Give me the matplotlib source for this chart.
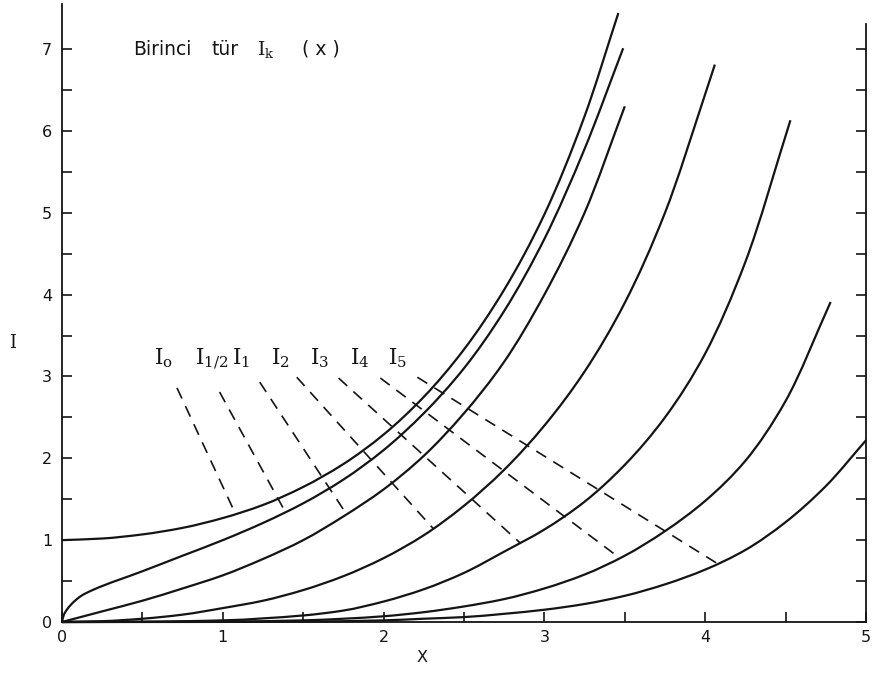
import numpy as np
import matplotlib
matplotlib.use("Agg")
import matplotlib.pyplot as plt
from matplotlib.path import Path
from matplotlib.patches import PathPatch
from matplotlib.ticker import MultipleLocator, FixedLocator

# Modified Bessel functions of the first kind
x_I0 = [0, 0.25, 0.5, 0.75, 1.0, 1.25, 1.5, 1.75, 2.0, 2.25, 2.5, 2.75, 3.0, 3.25, 3.46]
y_I0 = [1.00, 1.02, 1.07, 1.15, 1.27, 1.43, 1.65, 1.93, 2.29, 2.75, 3.33, 4.06, 4.98, 6.18, 7.44]

x_Ih = [0, 0.01, 0.03, 0.07, 0.12, 0.19, 0.5, 0.75, 1.0, 1.25, 1.5, 1.75, 2.0, 2.25,
        2.5, 2.75, 3.0, 3.25, 3.49]
y_Ih = [0, 0.08, 0.15, 0.24, 0.32, 0.39, 0.62, 0.81, 1.00, 1.21, 1.45, 1.74, 2.10, 2.55,
        3.10, 3.80, 4.68, 5.78, 7.01]

x_I1 = [0, 0.25, 0.5, 0.75, 1.0, 1.25, 1.5, 1.75, 2.0, 2.25, 2.5, 2.75, 3.0, 3.25, 3.50]
y_I1 = [0, 0.13, 0.26, 0.41, 0.57, 0.77, 1.00, 1.29, 1.62, 2.03, 2.55, 3.18, 4.00, 5.00, 6.30]

x_I2 = [0, 0.25, 0.5, 0.75, 1.0, 1.25, 1.5, 1.75, 2.0, 2.25, 2.5, 2.75, 3.0, 3.25, 3.5,
        3.75, 4.0, 4.06]
y_I2 = [0, 0.01, 0.04, 0.09, 0.17, 0.26, 0.39, 0.56, 0.78, 1.06, 1.42, 1.86, 2.40, 3.06,
        3.90, 5.00, 6.45, 6.81]

x_I3 = [0, 0.5, 1.0, 1.5, 1.75, 2.0, 2.25, 2.5, 2.75, 3.0, 3.25, 3.5, 3.75, 4.0, 4.25, 4.53]
y_I3 = [0, 0.003, 0.02, 0.08, 0.14, 0.25, 0.40, 0.60, 0.86, 1.13, 1.47, 1.92, 2.50, 3.28,
        4.40, 6.13]

x_I4 = [0, 1.0, 1.5, 1.75, 2.0, 2.25, 2.5, 2.75, 3.0, 3.25, 3.5, 3.75, 4.0, 4.25, 4.5, 4.78]
y_I4 = [0, 0.005, 0.02, 0.04, 0.07, 0.12, 0.19, 0.28, 0.41, 0.58, 0.81, 1.11, 1.48, 1.97,
        2.70, 3.91]

x_I5 = [0, 1.0, 1.5, 2.0, 2.25, 2.5, 2.75, 3.0, 3.25, 3.5, 3.75, 4.0, 4.25, 4.5, 4.75, 5.0]
y_I5 = [0, 0.001, 0.005, 0.02, 0.04, 0.06, 0.10, 0.15, 0.22, 0.32, 0.46, 0.64, 0.88, 1.22,
        1.66, 2.22]

curve_names = [r"$\mathregular{I_o}$", r"$\mathregular{I_{1/2}}$", r"$\mathregular{I_1}$",
               r"$\mathregular{I_2}$", r"$\mathregular{I_3}$", r"$\mathregular{I_4}$",
               r"$\mathregular{I_5}$"]
curves = [(x_I0, y_I0), (x_Ih, y_Ih), (x_I1, y_I1), (x_I2, y_I2),
          (x_I3, y_I3), (x_I4, y_I4), (x_I5, y_I5)]

# label anchors and dashed leader lines (start point, x where it meets its curve)
label_x = [0.575, 0.83, 1.06, 1.30, 1.54, 1.79, 2.03]
label_y = 3.22
leader_start_x = [0.715, 0.98, 1.23, 1.46, 1.72, 1.98, 2.21]
leader_start_y = [2.86, 2.81, 2.93, 2.99, 2.98, 2.98, 2.99]
leader_end_x = [1.08, 1.39, 1.77, 2.31, 2.85, 3.47, 4.08]

# heading words, their left positions and font families
title_words = ["Birinci", "tür", r"$\mathregular{I_k}$", "( x )"]
title_x = [0.44, 0.93, 1.215, 1.49]
title_fonts = ["DejaVu Sans", "DejaVu Sans", "DejaVu Serif", "DejaVu Sans"]
title_y = 7.0


def slopes(xs, ys):
    """Monotone (Fritsch-Carlson) tangents at each point."""
    xs, ys = np.asarray(xs, float), np.asarray(ys, float)
    h = np.diff(xs)
    d = np.diff(ys) / h
    m = np.empty_like(xs)
    m[0], m[-1] = d[0], d[-1]
    for k in range(1, len(xs) - 1):
        if d[k - 1] * d[k] <= 0:
            m[k] = 0.0
        else:
            w1 = 2 * h[k] + h[k - 1]
            w2 = h[k] + 2 * h[k - 1]
            m[k] = (w1 + w2) / (w1 / d[k - 1] + w2 / d[k])
    return m


def smooth_path(xs, ys):
    """Cubic Bezier path passing through every point."""
    xs, ys = np.asarray(xs, float), np.asarray(ys, float)
    m = slopes(xs, ys)
    verts = [(xs[0], ys[0])]
    codes = [Path.MOVETO]
    for k in range(len(xs) - 1):
        h = xs[k + 1] - xs[k]
        verts += [(xs[k] + h / 3, ys[k] + m[k] * h / 3),
                  (xs[k + 1] - h / 3, ys[k + 1] - m[k + 1] * h / 3),
                  (xs[k + 1], ys[k + 1])]
        codes += [Path.CURVE4] * 3
    return Path(verts, codes)


def value_at(xs, ys, x):
    xs, ys = np.asarray(xs, float), np.asarray(ys, float)
    m = slopes(xs, ys)
    k = int(np.clip(np.searchsorted(xs, x) - 1, 0, len(xs) - 2))
    h = xs[k + 1] - xs[k]
    t = (x - xs[k]) / h
    h00 = 2 * t**3 - 3 * t**2 + 1
    h10 = t**3 - 2 * t**2 + t
    h01 = -2 * t**3 + 3 * t**2
    h11 = t**3 - t**2
    return h00 * ys[k] + h10 * h * m[k] + h01 * ys[k + 1] + h11 * h * m[k + 1]


W, H = 878, 679
fig = plt.figure(figsize=(W / 100, H / 100), dpi=100)
ax = fig.add_axes([62 / W, 57 / H, 804 / W, 618 / H])
ink = "#141414"

for (xs, ys) in curves:
    ax.add_patch(PathPatch(smooth_path(xs, ys), fill=False, edgecolor=ink, lw=1.6,
                           capstyle="butt", clip_on=False, zorder=3))

for i, (xs, ys) in enumerate(curves):
    xe = leader_end_x[i]
    ye = value_at(xs, ys, xe)
    ax.plot([leader_start_x[i], xe], [leader_start_y[i], ye], color=ink, lw=1.2,
            ls=(0, (7, 5)), zorder=2)
    ax.text(label_x[i], label_y, curve_names[i], fontsize=15.5, family="DejaVu Serif",
            ha="left", va="center", color=ink)

for word, wx, fam in zip(title_words, title_x, title_fonts):
    ax.text(wx, title_y, word, fontsize=13.5, family=fam, ha="left", va="center",
            color=ink)

ax.set_xlim(0, 5)
ax.set_ylim(0, 7.55)

ax.spines["top"].set_visible(False)
ax.spines["right"].set_bounds(0, 7.3)
ax.spines["left"].set_bounds(0, 7.55)
for s in ("left", "right", "bottom"):
    ax.spines[s].set_linewidth(1.3)
    ax.spines[s].set_color(ink)

ax.xaxis.set_major_locator(MultipleLocator(1))
ax.xaxis.set_minor_locator(MultipleLocator(0.5))
ax.yaxis.set_major_locator(FixedLocator(range(0, 8)))
ax.yaxis.set_minor_locator(FixedLocator(np.arange(0.5, 7.0, 1.0)))

ax.tick_params(axis="both", which="both", direction="in", length=7, width=1.2,
               color=ink, labelsize=11.5, labelcolor=ink)
ax.tick_params(axis="y", which="both", left=True, right=True, pad=7)
ax.tick_params(axis="x", which="both", bottom=True, top=False, pad=6)

fig.text(422 / W, 1 - 658 / H, "X", fontsize=11.5, ha="center", va="center", color=ink)
fig.text(13 / W, 1 - 343 / H, "I", fontsize=13, family="DejaVu Serif",
         ha="center", va="center", color=ink)

fig.savefig("out.png", dpi=100, facecolor="white")
